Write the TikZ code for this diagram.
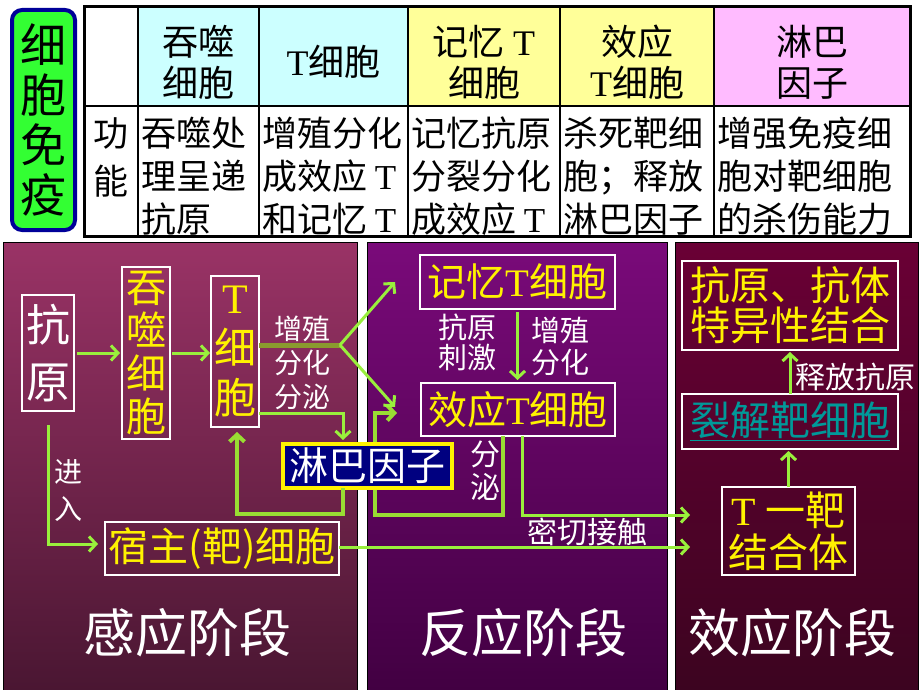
\documentclass[tikz,border=0pt]{standalone}
\usepackage{fontspec}
\setmainfont{Noto Sans CJK SC}
\newfontfamily\tnr{Liberation Serif}
\usetikzlibrary{arrows.meta}
\newcommand{\myfs}[2]{\fontsize{#1}{#2}\selectfont}
\definecolor{agreen}{HTML}{99F03C}
\definecolor{lgreen}{HTML}{99DD33}
\definecolor{oliveg}{HTML}{8A9A2E}
\definecolor{ponetop}{HTML}{9A3366}
\definecolor{ponebot}{HTML}{4A1632}
\definecolor{ptwotop}{HTML}{7A0A7A}
\definecolor{ptwobot}{HTML}{420042}
\definecolor{pthrtop}{HTML}{6A0035}
\definecolor{pthrbot}{HTML}{3C0420}
\definecolor{cyanl}{HTML}{CCFFFF}
\definecolor{yell}{HTML}{FFFF99}
\definecolor{pinkl}{HTML}{FFBBFF}
\definecolor{lblue}{HTML}{000080}
\definecolor{labgreen}{HTML}{33FF33}
\definecolor{labblue}{HTML}{000099}
\definecolor{tealt}{HTML}{009999}
\begin{document}
\begin{tikzpicture}[x=1pt,y=-1pt,
  every node/.style={inner sep=0pt,outer sep=0pt},
  wbox/.style={draw=white,line width=2.5pt,text=yellow,align=center},
  garrow/.style={draw=agreen,line width=3pt,-{Straight Barb[length=7pt,width=15pt]}},
  gline/.style={draw=lgreen,line width=4pt},
  wlabel/.style={text=white,align=center},
  cell/.style={text=black,align=left,anchor=west,font=\myfs{35}{43}},
  head/.style={text=black,align=center,font=\myfs{36}{41}},
  phase/.style={text=white,font=\myfs{52}{56}}
]
\fill[white] (0,0) rectangle (920,690);
\useasboundingbox (0,0) rectangle (920,690);

% ---------------- top label ----------------
\node[draw=labblue,line width=4pt,fill=labgreen,rounded corners=10pt,
      minimum width=63,minimum height=220,align=center,font=\myfs{46}{50}]
      (lab) at (43.5,120) {细\\胞\\免\\疫};

% ---------------- table ----------------
\fill[cyanl] (138,7) rectangle (408,106);
\fill[yell] (408,7) rectangle (714,106);
\fill[pinkl] (714,7) rectangle (910,106);
\draw[line width=1.3pt] (84,106) -- (910,106);
\foreach \xx in {138,259,408,560,714}{\draw[line width=1.3pt] (\xx,7) -- (\xx,236);}
\draw[line width=3pt] (84,7) rectangle (910,236);

\node[head] (h2) at (198.5,62) {吞噬\\细胞};
\node[head] (h3) at (333.5,62) {{\tnr T}细胞};
\node[head] (h4) at (484,62) {记忆 {\tnr T}\\细胞};
\node[head] (h5) at (637,62) {效应\\{\tnr T}细胞};
\node[head] (h6) at (812,62) {淋巴\\因子};

\node[text=black,align=center,font=\myfs{35}{48}] (b1) at (111,157) {功\\能};
\node[cell] (b2) at (141,176) {吞噬处\\理呈递\\抗原};
\node[cell] (b3) at (262,176) {增殖分化\\成效应 {\tnr T}\\和记忆 {\tnr T}};
\node[cell] (b4) at (411,176) {记忆抗原\\分裂分化\\成效应 {\tnr T}};
\node[cell] (b5) at (563,176) {杀死靶细\\胞；释放\\淋巴因子};
\node[cell] (b6) at (717,176) {增强免疫细\\胞对靶细胞\\的杀伤能力};

% ---------------- panels ----------------
\shade[top color=ponetop,bottom color=ponebot] (3,242) rectangle (357,690);
\shade[top color=ptwotop,bottom color=ptwobot] (367,242) rectangle (667,690);
\shade[top color=pthrtop,bottom color=pthrbot] (675,242) rectangle (918,690);
\draw[black,line width=0.8pt] (3,242) rectangle (357,690);
\draw[black,line width=0.8pt] (367,242) rectangle (667,690);
\draw[black,line width=0.8pt] (675,242) rectangle (918,690);

% ---------------- nodes ----------------
\node[wbox,text=white,minimum width=52,minimum height=116,font=\myfs{44}{57}] (ky) at (48,353) {抗\\原};
\node[wbox,minimum width=48,minimum height=172,font=\myfs{40}{43}] (ts) at (146,353) {吞\\噬\\细\\胞};
\node[wbox,minimum width=48,minimum height=151,font=\myfs{42}{50}] (tc) at (235,351.5) {{\tnr T}\\细\\胞};
\node[wbox,minimum width=195,minimum height=54,font=\myfs{39}{42}] (jy) at (517.5,282) {记忆{\tnr T}细胞};
\node[wbox,minimum width=194,minimum height=53,font=\myfs{39}{42}] (xy) at (518,409.5) {效应{\tnr T}细胞};
\node[wbox,minimum width=234,minimum height=53,font=\myfs{40}{42}] (sz) at (222,548.5) {宿主(靶)细胞};
\node[wbox,minimum width=216,minimum height=89,font=\myfs{40}{40}] (kt) at (790,305.5) {抗原、抗体\\特异性结合};
\node[wbox,text=tealt,minimum width=216,minimum height=55,font=\myfs{40}{42}] (lj) at (790,421.5) {\underline{裂解靶细胞}};
\node[wbox,minimum width=133,minimum height=88,font=\myfs{40}{42}] (jh) at (788.5,531) {{\tnr T} 一靶\\结合体};

% coordinates for bends
\coordinate (br) at (340,345);
\coordinate (lb1) at (343,413);
\coordinate (c1) at (343,514);
\coordinate (c2) at (237,514);
\coordinate (c3) at (237,432);
\coordinate (d1) at (503,515);
\coordinate (d2) at (375,515);
\coordinate (d3) at (375,413);
\coordinate (d4) at (397,413);
\coordinate (e1) at (522,515);
\coordinate (e2) at (690,515);
\coordinate (h1) at (690,547);
\coordinate (k1) at (48,544);
\coordinate (k2) at (98,544);
\coordinate (m1) at (395,282);
\coordinate (m2) at (395,407);

% loop behind lymphokine box
\draw[gline,-{Straight Barb[length=7pt,width=15pt]}] (xy.south -| d1) -- (d1) -- (d2) -- (d3) -- (d4);

\node[draw=yellow,line width=3.5pt,fill=lblue,text=white,minimum width=169,minimum height=44,font=\myfs{39}{42}] (lb) at (367.5,466) {淋巴因子};

% ---------------- connectors ----------------
\draw[garrow] ([xshift=3pt]ky.east) -- ([xshift=-2pt]ts.west);
\draw[garrow] ([xshift=2pt]ts.east) -- ([xshift=-1pt]tc.west |- ts.east);
\draw[oliveg,line width=5pt] (tc.east |- br) -- (br);
\draw[garrow] (br) -- (m1);
\draw[garrow] (br) -- (m2);
\draw[garrow] (tc.east |- lb1) -- (lb1) -- ([yshift=4pt]lb1 |- lb.north);
\draw[gline,-{Straight Barb[length=7pt,width=15pt]}] (lb1 |- lb.south) -- (c1) -- (c2) -- (c3);
\draw[garrow] ([yshift=-3pt]jy.south) -- ([yshift=3pt]jy.south |- xy.north);
\draw[garrow] (xy.south -| e1) -- (e1) -- (e2);
\draw[garrow] (sz.east |- h1) -- (h1);
\draw[garrow] ([yshift=-14pt]ky.south) -- (k1) -- (k2);
\draw[garrow] (jh.north) -- ([yshift=-2pt]jh.north |- lj.south);
\draw[garrow] (lj.north) -- ([yshift=-2pt]lj.north |- kt.south);

% ---------------- labels ----------------
\node[wlabel,font=\myfs{28}{34}] (l1) at (302,363) {增殖\\分化\\分泌};
\node[wlabel,font=\myfs{28}{37}] (l2) at (68,491) {进\\入};
\node[wlabel,font=\myfs{29}{30}] (l3) at (467,342) {抗原\\刺激};
\node[wlabel,font=\myfs{29}{32}] (l4) at (560,346) {增殖\\分化};
\node[wlabel,font=\myfs{30}{33}] (l5) at (485,471) {分\\泌};
\node[wlabel,font=\myfs{30}{32}] (l6) at (587,532) {密切接触};
\node[wlabel,font=\myfs{30}{32}] (l7) at (855,377) {释放抗原};

\node[phase] (p1) at (187,633) {感应阶段};
\node[phase] (p2) at (523,633) {反应阶段};
\node[phase] (p3) at (792,633) {效应阶段};
\end{tikzpicture}
\end{document}
